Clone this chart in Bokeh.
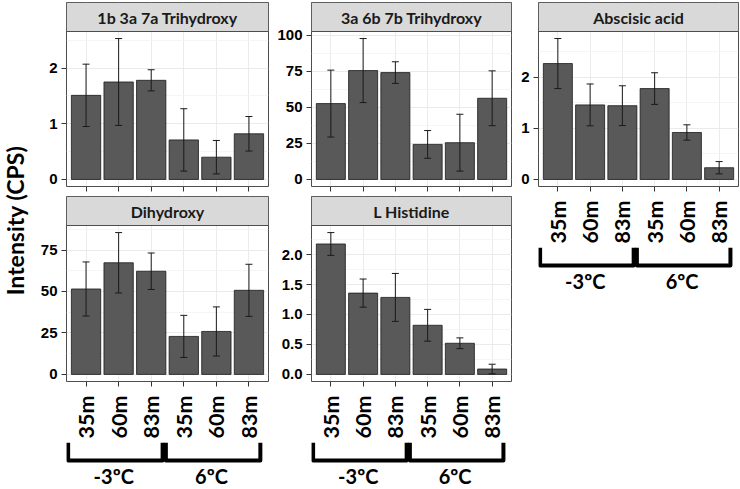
import math
from bokeh.plotting import figure
from bokeh.models import Range1d, FixedTicker, ColumnDataSource, Whisker, TeeHead
from bokeh.layouts import row, column
from bokeh.embed import file_html
from bokeh.resources import INLINE
from bokeh.core.properties import value

# ---------------- data ----------------
depth_labels = ["35m", "60m", "83m", "35m", "60m", "83m"]
temp_labels = ["-3ºC", "6ºC"]
temp_group = [0, 0, 0, 1, 1, 1]
x_pos = [1, 2, 3, 4, 5, 6]
y_title = "Intensity (CPS)"

title_1 = "1b 3a 7a Trihydroxy"
mean_1 = [1.51, 1.75, 1.78, 0.71, 0.40, 0.82]
se_1 = [0.56, 0.78, 0.19, 0.56, 0.30, 0.31]
ticks_1 = [0, 1, 2]
tick_labels_1 = ["0", "1", "2"]
minor_1 = [0.5, 1.5, 2.5]

title_2 = "3a 6b 7b Trihydroxy"
mean_2 = [52.6, 75.5, 74.1, 24.3, 25.5, 56.3]
se_2 = [23.2, 22.2, 7.5, 9.6, 19.7, 19.0]
ticks_2 = [0, 25, 50, 75, 100]
tick_labels_2 = ["0", "25", "50", "75", "100"]
minor_2 = [12.5, 37.5, 62.5, 87.5]

title_3 = "Abscisic acid"
mean_3 = [2.27, 1.46, 1.445, 1.78, 0.92, 0.23]
se_3 = [0.49, 0.41, 0.39, 0.31, 0.15, 0.12]
ticks_3 = [0, 1, 2]
tick_labels_3 = ["0", "1", "2"]
minor_3 = [0.5, 1.5, 2.5]

title_4 = "Dihydroxy"
mean_4 = [51.5, 67.3, 62.2, 22.9, 25.9, 50.7]
se_4 = [16.3, 18.2, 11.0, 12.7, 14.8, 15.7]
ticks_4 = [0, 25, 50, 75]
tick_labels_4 = ["0", "25", "50", "75"]
minor_4 = [12.5, 37.5, 62.5, 87.5]

title_5 = "L Histidine"
mean_5 = [2.177, 1.357, 1.285, 0.82, 0.52, 0.09]
se_5 = [0.19, 0.235, 0.40, 0.265, 0.09, 0.08]
ticks_5 = [0, 0.5, 1, 1.5, 2]
tick_labels_5 = ["0.0", "0.5", "1.0", "1.5", "2.0"]
minor_5 = [0.25, 0.75, 1.25, 1.75, 2.25]

# ---------------- style ----------------
STRIP_H = 29
LABEL_FONT = "Lato"
BORDER = "#4D4D4D"
GRID = "#EBEBEB"
BRACKET_H = 46


def make_panel(title, means, ses, ticks, tick_labels, minor, frame_w, panel_h,
               left, right, top_b, bottom_b, with_labels):
    upper = [m + s for m, s in zip(means, ses)]
    lower = [m - s for m, s in zip(means, ses)]
    m_max = max(upper)
    lo, hi = -0.05 * m_max, 1.05 * m_max
    strip_top = hi + (hi - lo) * STRIP_H / panel_h
    p = figure(width=left + frame_w + right,
               height=top_b + STRIP_H + panel_h + bottom_b,
               x_range=Range1d(0.4, 6.6), y_range=Range1d(lo, strip_top),
               min_border_left=left, min_border_right=right,
               min_border_top=top_b, min_border_bottom=bottom_b,
               output_backend="svg", toolbar_location=None, tools="")
    p.background_fill_color = "white"
    p.border_fill_color = "white"
    p.outline_line_color = BORDER
    p.outline_line_width = 1

    src = ColumnDataSource(dict(x=x_pos, top=means, upper=upper, lower=lower))
    p.vbar(x="x", top="top", bottom=0, width=0.9, source=src,
           fill_color="#595959", line_color="#1A1A1A", line_width=0.8)
    w = Whisker(source=src, base="x", upper="upper", lower="lower",
                line_color="#1A1A1A", line_width=1, level="overlay",
                upper_head=TeeHead(size=7, line_color="#1A1A1A", line_width=1),
                lower_head=TeeHead(size=7, line_color="#1A1A1A", line_width=1))
    p.add_layout(w)

    # strip
    p.quad(left=[0.4], right=[6.6], bottom=[hi], top=[strip_top],
           fill_color="#D9D9D9", line_color=BORDER, line_width=1)
    p.text(x=[3.5], y=[(hi + strip_top) / 2], text=[title],
           text_font=value(LABEL_FONT), text_font_style="bold",
           text_font_size="16px", text_color="#1A1A1A",
           text_align="center", text_baseline="middle")

    # grids
    p.xgrid.ticker = FixedTicker(ticks=x_pos)
    p.xgrid.grid_line_color = GRID
    p.xgrid.grid_line_width = 1
    p.ygrid.ticker = FixedTicker(ticks=ticks, minor_ticks=minor)
    p.ygrid.grid_line_color = GRID
    p.ygrid.grid_line_width = 1
    p.ygrid.minor_grid_line_color = "#F3F3F3"
    p.ygrid.minor_grid_line_width = 0.8

    # y axis
    ya = p.yaxis[0]
    ya.ticker = FixedTicker(ticks=ticks)
    ya.major_label_overrides = {t: l for t, l in zip(ticks, tick_labels)}
    ya.axis_line_color = None
    ya.major_tick_line_color = "#333333"
    ya.major_tick_out = 5
    ya.major_tick_in = 0
    ya.minor_tick_line_color = None
    ya.major_label_standoff = 4
    ya.major_label_text_font = "Liberation Sans"
    ya.major_label_text_font_style = "bold"
    ya.major_label_text_font_size = "15px"
    ya.major_label_text_color = "black"

    # x axis
    xa = p.xaxis[0]
    xa.ticker = FixedTicker(ticks=x_pos)
    xa.axis_line_color = None
    xa.major_tick_line_color = "#333333"
    xa.major_tick_out = 5
    xa.major_tick_in = 0
    xa.minor_tick_line_color = None
    if with_labels:
        xa.major_label_overrides = {x: l for x, l in zip(x_pos, depth_labels)}
        xa.major_label_orientation = math.pi / 2
        xa.major_label_standoff = 9
        xa.major_label_text_font = LABEL_FONT
        xa.major_label_text_font_style = "bold"
        xa.major_label_text_font_size = "21.5px"
        xa.major_label_text_color = "black"
    else:
        xa.major_label_overrides = {x: "" for x in x_pos}
        xa.major_label_standoff = 0
        xa.major_label_text_font_size = "0px"
    return p


def make_bracket(x_range, frame_w, left, right):
    b = figure(width=left + frame_w + right, height=BRACKET_H,
               x_range=x_range, y_range=Range1d(-BRACKET_H, 0),
               min_border_left=left, min_border_right=right,
               min_border_top=0, min_border_bottom=0,
               x_axis_location=None, y_axis_location=None,
               output_backend="svg", toolbar_location=None, tools="")
    b.grid.visible = False
    b.outline_line_color = None
    b.background_fill_color = "white"
    b.border_fill_color = "white"
    xs, ys, cx = [], [], []
    for g in range(len(temp_labels)):
        members = [x for x, gg in zip(x_pos, temp_group) if gg == g]
        x0, x1 = min(members) - 0.55, max(members) + 0.35
        xs.append([x0, x0, x1, x1])
        ys.append([0, -18, -18, 0])
        cx.append((x0 + x1) / 2 - 0.05)
    b.multi_line(xs=xs, ys=ys, line_color="black", line_width=4,
                 line_join="round")
    b.text(x=cx, y=[-33.5] * len(cx), text=temp_labels,
           text_font=value(LABEL_FONT), text_font_style="bold",
           text_font_size="20px", text_color="black",
           text_align="center", text_baseline="middle")
    return b


# ---------------- layout ----------------
TW = 30
p1 = make_panel(title_1, mean_1, se_1, ticks_1, tick_labels_1, minor_1,
                202, 155, 36, 2, 2, 9, False)
p4 = make_panel(title_4, mean_4, se_4, ticks_4, tick_labels_4, minor_4,
                202, 156, 36, 2, 1, 61, True)
b4 = make_bracket(p4.x_range, 202, 36, 2)

p2 = make_panel(title_2, mean_2, se_2, ticks_2, tick_labels_2, minor_2,
                200, 155, 41, 2, 2, 9, False)
p5 = make_panel(title_5, mean_5, se_5, ticks_5, tick_labels_5, minor_5,
                200, 156, 41, 2, 1, 61, True)
b5 = make_bracket(p5.x_range, 200, 41, 2)

p3 = make_panel(title_3, mean_3, se_3, ticks_3, tick_labels_3, minor_3,
                200, 155, 25, 1, 2, 61, True)
b3 = make_bracket(p3.x_range, 200, 25, 1)

H = 488
t = figure(width=TW, height=H, x_range=Range1d(0, TW), y_range=Range1d(0, H),
           min_border=0, x_axis_location=None, y_axis_location=None,
           output_backend="svg", toolbar_location=None, tools="")
t.grid.visible = False
t.outline_line_color = None
t.text(x=[14.5], y=[H - 220], text=[y_title], angle=math.pi / 2,
       text_font=value(LABEL_FONT), text_font_style="bold",
       text_font_size="23px", text_color="black",
       text_align="center", text_baseline="middle")

layout = row(t, column(p1, p4, b4), column(p2, p5, b5), column(p3, b3))

open("out.html", "w").write(file_html(layout, INLINE))
